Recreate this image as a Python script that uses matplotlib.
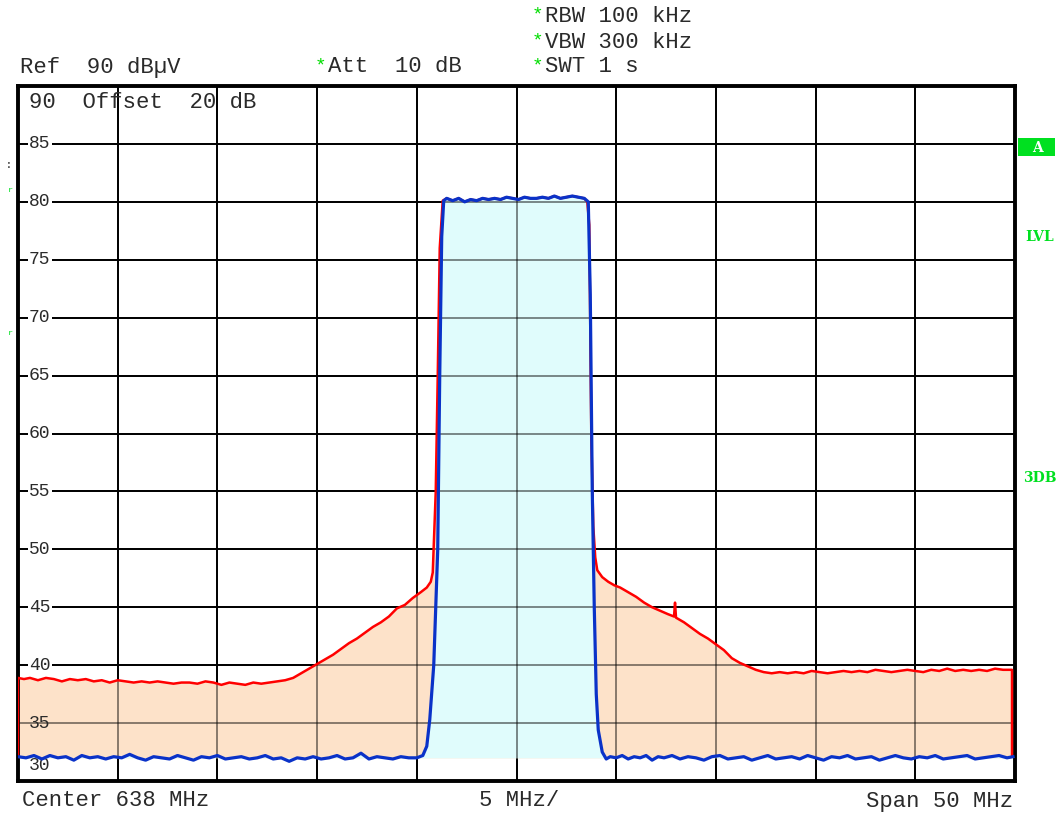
import numpy as np
import matplotlib
matplotlib.use('Agg')
import matplotlib.pyplot as plt
from matplotlib.patches import Rectangle

plt.rcParams['font.family'] = ['Liberation Mono', 'DejaVu Sans Mono']

# trace 1 (red, max hold) - frequency in MHz, level in dBuV
red_f = [613.0, 613.0, 613.3, 613.6, 614.0, 614.4, 614.8, 615.2, 615.6, 616.0, 616.4,
         616.8, 617.2, 617.6, 618.0, 618.4, 618.8, 619.2, 619.6, 620.0, 620.4, 620.8,
         621.2, 621.6, 622.0, 622.4, 622.8, 623.2, 623.6, 624.0, 624.4, 624.8, 625.2,
         625.6, 626.0, 626.4, 626.8, 627.2, 627.6, 628.0, 628.4, 628.8, 629.2, 629.6,
         630.0, 630.4, 630.8, 631.2, 631.6, 632.0, 632.4, 632.8, 633.2, 633.5, 633.7,
         633.8, 633.95, 634.05, 634.15, 634.3, 634.5, 634.8, 635.1, 635.4, 635.7, 636.0,
         636.3, 636.6, 636.9, 637.2, 637.5, 637.8, 638.1, 638.4, 638.7, 639.0, 639.3,
         639.6, 639.9, 640.2, 640.5, 640.8, 641.1, 641.4, 641.55, 641.65, 641.75, 641.85,
         641.95, 642.05, 642.3, 642.6, 642.9, 643.2, 643.6, 644.0, 644.4, 644.8, 645.2,
         645.6, 645.9, 645.95, 646.0, 646.4, 646.8, 647.2, 647.6, 648.0, 648.4, 648.8,
         649.2, 649.6, 650.0, 650.4, 650.8, 651.2, 651.6, 652.0, 652.4, 652.8, 653.2,
         653.6, 654.0, 654.4, 654.8, 655.2, 655.6, 656.0, 656.4, 656.8, 657.2, 657.6,
         658.0, 658.4, 658.8, 659.2, 659.6, 660.0, 660.4, 660.8, 661.2, 661.6, 662.0,
         662.4, 662.85, 662.85]
red_db = [32.1, 38.9, 38.8, 38.9, 38.7, 38.9, 38.8, 38.6, 38.8, 38.7, 38.8,
          38.6, 38.7, 38.5, 38.7, 38.6, 38.5, 38.6, 38.5, 38.6, 38.5, 38.4,
          38.5, 38.5, 38.4, 38.6, 38.5, 38.3, 38.5, 38.4, 38.3, 38.5, 38.4,
          38.5, 38.6, 38.7, 38.9, 39.3, 39.7, 40.1, 40.5, 40.9, 41.4, 41.9,
          42.3, 42.8, 43.3, 43.7, 44.2, 44.9, 45.2, 45.8, 46.3, 46.7, 47.2,
          48.0, 55.0, 65.0, 76.0, 80.1, 80.3, 80.1, 80.3, 80.0, 80.2, 80.1,
          80.3, 80.2, 80.3, 80.2, 80.4, 80.3, 80.2, 80.4, 80.3, 80.3, 80.4,
          80.3, 80.5, 80.3, 80.4, 80.5, 80.4, 80.3, 80.0, 78.0, 60.0, 52.0,
          49.3, 48.2, 47.6, 47.2, 46.9, 46.7, 46.3, 45.9, 45.4, 45.0, 44.7,
          44.4, 44.2, 45.4, 44.1, 43.7, 43.2, 42.7, 42.3, 41.8, 41.3, 40.6,
          40.2, 39.9, 39.6, 39.4, 39.3, 39.4, 39.3, 39.4, 39.3, 39.5, 39.4,
          39.3, 39.4, 39.5, 39.4, 39.5, 39.4, 39.6, 39.5, 39.4, 39.5, 39.6,
          39.5, 39.4, 39.6, 39.5, 39.7, 39.5, 39.6, 39.5, 39.6, 39.5, 39.7,
          39.6, 39.6, 32.1]

# trace 2 (blue, clear write)
blue_f = [613.0, 613.4, 613.8, 614.2, 614.6, 615.0, 615.4, 615.8, 616.2, 616.6, 617.0,
          617.4, 617.8, 618.2, 618.6, 619.0, 619.4, 619.8, 620.2, 620.6, 621.0, 621.4,
          621.8, 622.2, 622.6, 623.0, 623.4, 623.8, 624.2, 624.6, 625.0, 625.4, 625.8,
          626.2, 626.6, 627.0, 627.4, 627.8, 628.2, 628.6, 629.0, 629.4, 629.8, 630.2,
          630.6, 631.0, 631.4, 631.8, 632.2, 632.6, 633.0, 633.3, 633.5, 633.65, 633.85,
          634.05, 634.15, 634.25, 634.35, 634.5, 634.8, 635.1, 635.4, 635.7, 636.0, 636.3,
          636.6, 636.9, 637.2, 637.5, 637.8, 638.1, 638.4, 638.7, 639.0, 639.3, 639.6,
          639.9, 640.2, 640.5, 640.8, 641.1, 641.4, 641.6, 641.7, 641.8, 641.9, 642.0,
          642.1, 642.3, 642.5, 642.7, 643.0, 643.3, 643.6, 643.9, 644.2, 644.5, 644.8,
          645.1, 645.4, 645.8, 646.2, 646.6, 647.0, 647.4, 647.8, 648.2, 648.6, 649.0,
          649.4, 649.8, 650.2, 650.6, 651.0, 651.4, 651.8, 652.2, 652.6, 653.0, 653.4,
          653.8, 654.2, 654.6, 655.0, 655.4, 655.8, 656.2, 656.6, 657.0, 657.4, 657.8,
          658.2, 658.6, 659.0, 659.4, 659.8, 660.2, 660.6, 661.0, 661.4, 661.8, 662.2,
          662.6, 662.9]
blue_db = [32.1, 32.0, 32.2, 31.9, 32.2, 32.0, 32.1, 31.8, 32.2, 32.0, 32.1,
           31.9, 32.1, 32.0, 32.3, 32.0, 31.8, 32.1, 32.0, 31.9, 32.2, 32.0,
           31.8, 32.1, 32.0, 32.2, 31.9, 32.0, 32.1, 31.9, 32.0, 32.2, 31.9,
           32.0, 31.7, 32.0, 31.9, 32.1, 31.9, 32.0, 32.2, 31.9, 32.0, 32.4,
           31.9, 32.1, 32.0, 31.9, 32.1, 32.0, 32.0, 32.2, 33.0, 35.3, 40.0,
           50.0, 65.0, 77.0, 80.1, 80.3, 80.1, 80.3, 80.0, 80.2, 80.1, 80.3,
           80.2, 80.3, 80.2, 80.4, 80.3, 80.2, 80.4, 80.3, 80.3, 80.4, 80.3,
           80.5, 80.3, 80.4, 80.5, 80.4, 80.3, 80.0, 72.0, 55.0, 45.0, 37.5,
           34.4, 32.5, 31.9, 32.1, 32.0, 32.2, 31.9, 32.1, 32.0, 32.2, 31.8,
           32.1, 32.0, 32.2, 31.9, 32.1, 32.0, 31.8, 32.1, 32.2, 31.9, 32.0,
           32.1, 31.8, 32.0, 32.2, 31.9, 32.0, 32.1, 31.9, 32.2, 32.0, 31.8,
           32.1, 32.0, 32.2, 31.9, 32.0, 32.1, 31.8, 32.0, 32.2, 32.0, 31.9,
           32.1, 32.0, 32.2, 31.9, 32.0, 32.1, 32.2, 31.9, 32.0, 32.1, 32.2,
           32.0, 32.1]

center = 638
span = 50
ytick_vals = [35, 40, 45, 50, 55, 60, 65, 70, 75, 80, 85]
fill_base = 32.0

W, H = 1061, 814
fig = plt.figure(figsize=(W / 100, H / 100), dpi=100)
ax = fig.add_axes([18 / W, 1 - 781 / H, (1015 - 18) / W, (781 - 86) / H])

fmin, fmax = center - span / 2, center + span / 2
xg = np.arange(fmin, fmax + 0.1, span / 10)
yg = np.arange(30, 91, 5)
ax.set_xlim(fmin, fmax)
ax.set_ylim(30, 90)
ax.set_xticks(xg)
ax.set_yticks(yg)
ax.tick_params(length=0, labelleft=False, labelbottom=False)
ax.set_axisbelow(True)
ax.grid(True, color='black', lw=1.4)
for s in ax.spines.values():
    s.set_linewidth(2.8)
    s.set_color('black')

ax.fill_between(red_f, red_db, fill_base, color='#fde2c9', lw=0, zorder=1)
ax.fill_between(blue_f, blue_db, fill_base, color='#e0fcfc', lw=0, zorder=1.1)
# grid shows through the filled areas, darkened
for x in xg:
    ax.axvline(x, color='black', lw=1.3, alpha=0.5, zorder=1.5)
for y in yg:
    ax.axhline(y, color='black', lw=1.3, alpha=0.5, zorder=1.5)
ax.plot(red_f, red_db, color='#ff0000', lw=1.8, zorder=3)
ax.plot(blue_f, blue_db, color='#0a32c8', lw=2.3, zorder=4)

txt = '#2a2a2a'
fs = 16
# level labels inside the grid
for v in ytick_vals:
    bb = None if v == 35 else dict(facecolor='white', edgecolor='none', pad=1)
    ax.text(613.55, v, str(v), ha='left', va='center', fontsize=13, color=txt,
            bbox=bb, zorder=2)
ax.text(613.55, 31.3, '30', ha='left', va='center', fontsize=13, color=txt, zorder=2)
ax.text(613.55, 88.6, '90  Offset  20 dB', ha='left', va='center', fontsize=fs,
        color=txt, zorder=2)


def px(x, y):
    return x / W, 1 - y / H


fig.text(*px(20, 67), 'Ref  90 dB\u00b5V', ha='left', va='center', fontsize=fs, color=txt)
fig.text(*px(315, 66), '*', ha='left', va='center', fontsize=14, color='#00dd00')
fig.text(*px(328, 67), 'Att  10 dB', ha='left', va='center', fontsize=fs, color=txt)
for y, s in [(16, 'RBW 100 kHz'), (42, 'VBW 300 kHz'), (67, 'SWT 1 s')]:
    fig.text(*px(532, y - 1), '*', ha='left', va='center', fontsize=14, color='#00dd00')
    fig.text(*px(545, y), s, ha='left', va='center', fontsize=fs, color=txt)

fig.text(*px(22, 801), 'Center %d MHz' % center, ha='left', va='center', fontsize=fs, color=txt)
fig.text(*px(519, 801), '%d MHz/' % (span / 10), ha='center', va='center', fontsize=fs, color=txt)
fig.text(*px(1013, 801), 'Span %d MHz' % span, ha='right', va='center', fontsize=fs, color=txt)

green = '#00e020'
bx0, by0 = px(1018, 156)
fig.patches.append(Rectangle((bx0, by0), 37 / W, 18 / H, transform=fig.transFigure,
                             facecolor=green, edgecolor='none'))
fig.text(*px(1037, 148), 'A', ha='center', va='center', fontsize=10, color='white',
         fontweight='bold', family='DejaVu Serif')
fig.text(*px(1040, 237), 'LVL', ha='center', va='center', fontsize=10, color=green,
         fontweight='bold', family='DejaVu Serif')
fig.text(*px(1040, 478), '3DB', ha='center', va='center', fontsize=10, color=green,
         fontweight='bold', family='DejaVu Serif')
fig.text(*px(9, 165), ':', ha='center', va='center', fontsize=7, color='black')
fig.text(*px(10, 190), 'r', ha='center', va='center', fontsize=6, color=green)
fig.text(*px(10, 333), 'r', ha='center', va='center', fontsize=6, color=green)

fig.savefig('out.png', dpi=100)
